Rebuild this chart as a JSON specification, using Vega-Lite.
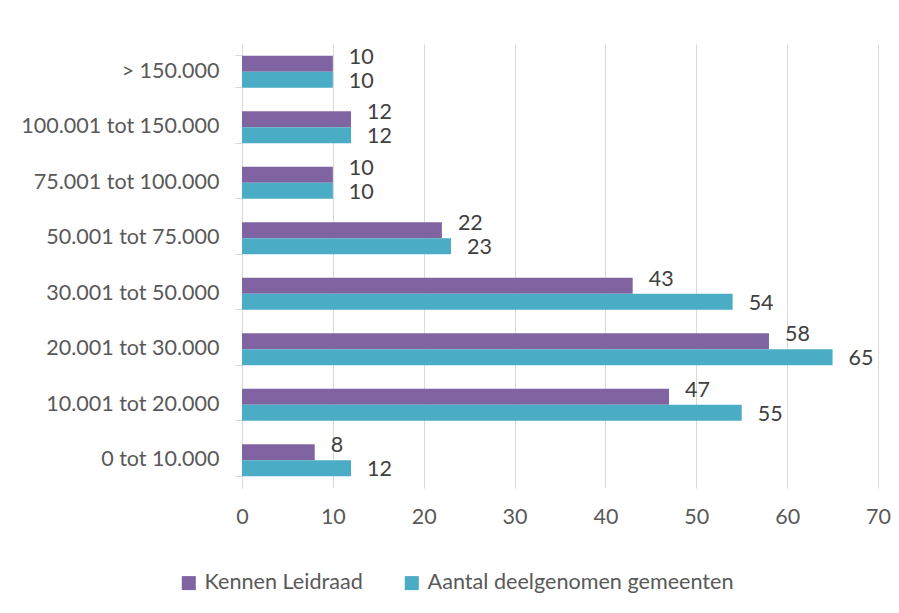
{
  "$schema": "https://vega.github.io/schema/vega-lite/v6.json",
  "width": 636,
  "height": 444,
  "autosize": {"type": "none"},
  "padding": {"left": 242, "top": 44, "right": 21, "bottom": 125},
  "background": "white",
  "config": {
    "font": "Lato",
    "view": {"stroke": null},
    "axis": {"labelFont": "Lato", "labelColor": "#595959", "labelFontSize": 21.5}
  },
  "data": {
    "values": [
      {"klasse": "> 150.000", "reeks": "Kennen Leidraad", "aantal": 10},
      {"klasse": "> 150.000", "reeks": "Aantal deelgenomen gemeenten", "aantal": 10},
      {"klasse": "100.001 tot 150.000", "reeks": "Kennen Leidraad", "aantal": 12},
      {"klasse": "100.001 tot 150.000", "reeks": "Aantal deelgenomen gemeenten", "aantal": 12},
      {"klasse": "75.001 tot 100.000", "reeks": "Kennen Leidraad", "aantal": 10},
      {"klasse": "75.001 tot 100.000", "reeks": "Aantal deelgenomen gemeenten", "aantal": 10},
      {"klasse": "50.001 tot 75.000", "reeks": "Kennen Leidraad", "aantal": 22},
      {"klasse": "50.001 tot 75.000", "reeks": "Aantal deelgenomen gemeenten", "aantal": 23},
      {"klasse": "30.001 tot 50.000", "reeks": "Kennen Leidraad", "aantal": 43},
      {"klasse": "30.001 tot 50.000", "reeks": "Aantal deelgenomen gemeenten", "aantal": 54},
      {"klasse": "20.001 tot 30.000", "reeks": "Kennen Leidraad", "aantal": 58},
      {"klasse": "20.001 tot 30.000", "reeks": "Aantal deelgenomen gemeenten", "aantal": 65},
      {"klasse": "10.001 tot 20.000", "reeks": "Kennen Leidraad", "aantal": 47},
      {"klasse": "10.001 tot 20.000", "reeks": "Aantal deelgenomen gemeenten", "aantal": 55},
      {"klasse": "0 tot 10.000", "reeks": "Kennen Leidraad", "aantal": 8},
      {"klasse": "0 tot 10.000", "reeks": "Aantal deelgenomen gemeenten", "aantal": 12}
    ]
  },
  "encoding": {
    "y": {
      "field": "klasse",
      "type": "nominal",
      "sort": ["> 150.000", "100.001 tot 150.000", "75.001 tot 100.000", "50.001 tot 75.000", "30.001 tot 50.000", "20.001 tot 30.000", "10.001 tot 20.000", "0 tot 10.000"],
      "scale": {"paddingInner": 0.423, "paddingOuter": 0.2115},
      "axis": {
        "title": null,
        "bandPosition": 1,
        "tickExtra": true,
        "tickSize": 7,
        "tickColor": "#d9d9d9",
        "domainColor": "#d9d9d9",
        "labelPadding": 16,
        "labelLimit": 240
      }
    },
    "yOffset": {
      "field": "reeks",
      "type": "nominal",
      "sort": ["Kennen Leidraad", "Aantal deelgenomen gemeenten"],
      "scale": {"paddingInner": 0, "paddingOuter": 0}
    },
    "x": {
      "field": "aantal",
      "type": "quantitative",
      "scale": {"domain": [0, 70], "nice": false},
      "axis": {
        "title": null,
        "values": [0, 10, 20, 30, 40, 50, 60, 70],
        "domain": false,
        "ticks": false,
        "grid": true,
        "gridColor": "#d9d9d9",
        "labelPadding": 18,
        "labelFlush": false
      }
    }
  },
  "layer": [
    {
      "mark": {"type": "bar"},
      "encoding": {
        "color": {
          "field": "reeks",
          "type": "nominal",
          "scale": {
            "domain": ["Kennen Leidraad", "Aantal deelgenomen gemeenten"],
            "range": ["#8064A2", "#4BACC6"]
          },
          "legend": {
            "title": null,
            "orient": "none",
            "direction": "horizontal",
            "legendX": -64,
            "legendY": 528,
            "symbolType": "square",
            "symbolSize": 196,
            "symbolStrokeWidth": 0,
            "labelFont": "Lato",
            "labelFontSize": 21.6,
            "labelColor": "#595959",
            "labelLimit": 400,
            "columnPadding": 38,
            "labelOffset": 5
          }
        }
      }
    },
    {
      "transform": [{"filter": "datum.reeks === 'Kennen Leidraad'"}],
      "mark": {"type": "text", "align": "left", "baseline": "middle", "dx": 16, "dy": -6, "fontSize": 21.5, "color": "#404040", "font": "Lato"},
      "encoding": {"text": {"field": "aantal", "type": "quantitative"}}
    },
    {
      "transform": [{"filter": "datum.reeks === 'Aantal deelgenomen gemeenten'"}],
      "mark": {"type": "text", "align": "left", "baseline": "middle", "dx": 16, "dy": 2, "fontSize": 21.5, "color": "#404040", "font": "Lato"},
      "encoding": {"text": {"field": "aantal", "type": "quantitative"}}
    }
  ]
}
